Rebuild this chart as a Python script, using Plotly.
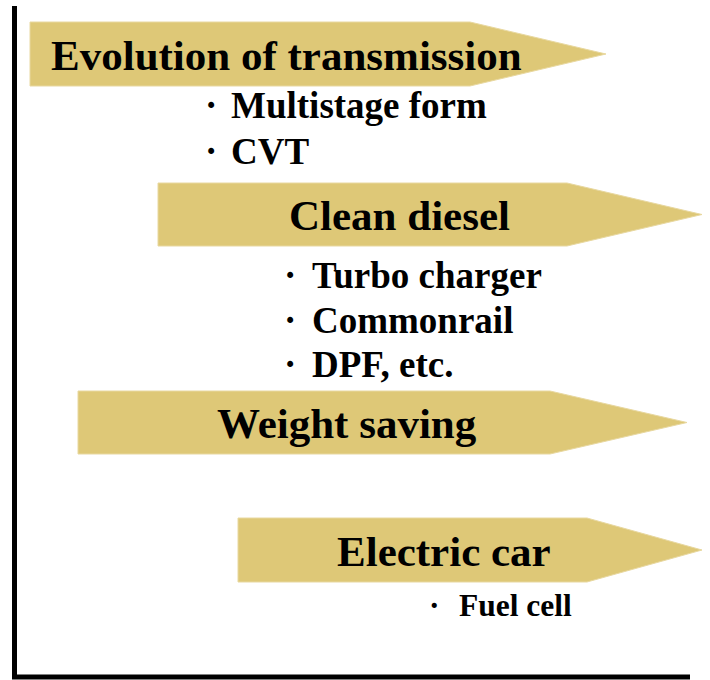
import plotly.graph_objects as go

W, H = 710, 680

# Arrow data: left x, head start x, tip x, top y, bottom y
arrow_names = ["Evolution of transmission", "Clean diesel", "Weight saving", "Electric car"]
arrow_left = [30, 158, 78, 238]
arrow_head = [470, 567, 550, 587]
arrow_tip = [606, 702, 687, 702]
arrow_top = [22, 183, 391, 518]
arrow_bottom = [86, 246, 454, 582]
title_x = [49, 287, 215, 335]

# Bullet items: text, dot x, text x, y
bullet_text = ["Multistage form", "CVT", "Turbo charger", "Commonrail", "DPF, etc.", "Fuel cell"]
dot_x = [211, 211, 290, 290, 290, 434]
text_x = [229, 229, 310, 310, 310, 457]
bullet_y = [105, 151, 275, 320, 364, 605]
bullet_size = [37, 37, 37, 37, 37, 31.5]

FILL = "#DEC877"
FONT = "Liberation Serif"

fig = go.Figure()
for i in range(len(arrow_names)):
    l, h, t = arrow_left[i], arrow_head[i], arrow_tip[i]
    top, bot = arrow_top[i], arrow_bottom[i]
    mid = (top + bot) / 2
    fig.add_trace(go.Scatter(
        x=[l, h, t, h, l, l], y=[top, top, mid, bot, bot, top],
        mode="lines", fill="toself", fillcolor=FILL,
        line=dict(color="#E8D8A0", width=1), hoverinfo="skip", showlegend=False))
    fig.add_annotation(x=title_x[i], y=mid + 1, text="<b>%s</b>" % arrow_names[i],
                       xanchor="left", yanchor="middle", showarrow=False,
                       font=dict(family=FONT, size=43, color="black"))

for txt, dx, tx, by, sz in zip(bullet_text, dot_x, text_x, bullet_y, bullet_size):
    fig.add_annotation(x=dx, y=by, text="<b>·</b>",
                       xanchor="center", yanchor="middle", showarrow=False,
                       font=dict(family=FONT, size=sz, color="black"))
    fig.add_annotation(x=tx, y=by, text="<b>%s</b>" % txt,
                       xanchor="left", yanchor="middle", showarrow=False,
                       font=dict(family=FONT, size=sz, color="black"))

# Frame lines (left and bottom)
fig.add_trace(go.Scatter(x=[14.5, 14.5, 690], y=[6, 677, 677], mode="lines",
                         line=dict(color="black", width=5), hoverinfo="skip", showlegend=False))

fig.update_layout(
    width=W, height=H, margin=dict(l=0, r=0, t=0, b=0),
    paper_bgcolor="white", plot_bgcolor="white",
    xaxis=dict(range=[0, W], visible=False, fixedrange=True),
    yaxis=dict(range=[H, 0], visible=False, fixedrange=True),
)
fig.write_html("out.html", config={"displayModeBar": False, "staticPlot": True},
               post_script="document.body.style.margin='0';document.body.style.overflow='hidden';")
